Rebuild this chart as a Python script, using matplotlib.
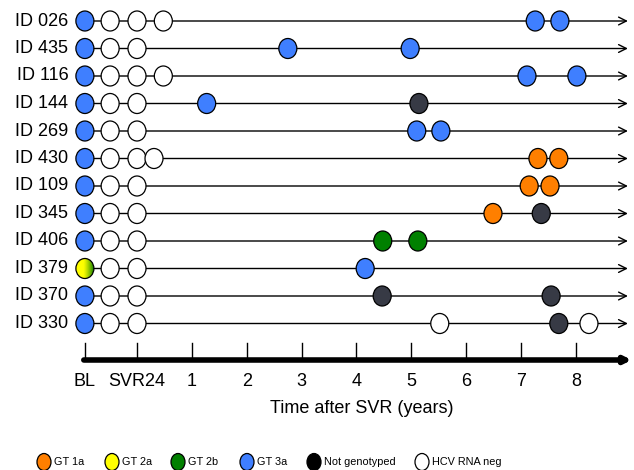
import numpy as np
import matplotlib
matplotlib.use('Agg')
import matplotlib.pyplot as plt
from matplotlib.patches import Ellipse

plt.rcParams['font.family'] = ['Liberation Sans', 'DejaVu Sans']

# patient ids (top to bottom)
ids = ['ID 026', 'ID 435', 'ID 116', 'ID 144', 'ID 269', 'ID 430',
       'ID 109', 'ID 345', 'ID 406', 'ID 379', 'ID 370', 'ID 330']
# genotype at baseline
bl_gt = ['3a', '3a', '3a', '3a', '3a', '3a', '3a', '3a', '3a', '2a/2b', '3a', '3a']
# HCV RNA negative visits around end of treatment / SVR24 (years after SVR)
neg_visits = [[-0.49, 0, 0.48], [-0.49, 0], [-0.49, 0, 0.48], [-0.49, 0], [-0.49, 0],
              [-0.49, 0, 0.31], [-0.49, 0], [-0.49, 0], [-0.49, 0], [-0.49, 0],
              [-0.49, 0], [-0.49, 0]]
# follow-up samples: (years after SVR, genotype)
followup = [
    [(7.26, '3a'), (7.71, '3a')],
    [(2.75, '3a'), (4.98, '3a')],
    [(7.11, '3a'), (8.02, '3a')],
    [(1.27, '3a'), (5.14, 'NG')],
    [(5.10, '3a'), (5.54, '3a')],
    [(7.31, '1a'), (7.69, '1a')],
    [(7.15, '1a'), (7.53, '1a')],
    [(6.49, '1a'), (7.37, 'NG')],
    [(4.48, '2b'), (5.12, '2b')],
    [(4.16, '3a')],
    [(4.47, 'NG'), (7.55, 'NG')],
    [(5.52, 'neg'), (7.69, 'NG'), (8.24, 'neg')],
]
BL = -0.95
tick_pos = [BL, 0, 1, 2, 3, 4, 5, 6, 7, 8]
tick_labels = ['BL', 'SVR24', '1', '2', '3', '4', '5', '6', '7', '8']

legend_labels = ['GT 1a', 'GT 2a', 'GT 2b', 'GT 3a', 'Not genotyped', 'HCV RNA neg']
legend_keys = ['1a', '2a', '2b', '3a', 'NGL', 'neg']

colors = {'1a': '#ff7f00', '2a': '#ffff00', '2b': '#008000', '3a': '#3f7fff',
          'NG': '#373a45', 'NGL': '#000000', 'neg': '#ffffff'}

fig = plt.figure(figsize=(6.34, 4.70), dpi=100)
ax = fig.add_axes([0, 0, 1, 1])
ax.set_xlim(-137 / 54.85, (634 - 137) / 54.85)
ax.set_ylim((470 - 21) / 27.5, -21 / 27.5)
ax.axis('off')

W, H = 18 / 54.85, 20 / 27.5


def dot(x, y, c, w=W, h=H, z=3):
    e = Ellipse((x, y), w, h, facecolor=c, edgecolor='black', lw=0.9, zorder=z)
    ax.add_patch(e)
    return e


for i, name in enumerate(ids):
    ax.text(-1.25, i, name, ha='right', va='center', fontsize=13)
    ax.annotate('', xy=(8.95, i), xytext=(BL, i),
                arrowprops=dict(arrowstyle='->', lw=1, color='black',
                                shrinkA=0, shrinkB=0, mutation_scale=14))
    if bl_gt[i] == '2a/2b':
        # mixed 2a/2b baseline: yellow to green gradient
        e = dot(BL, i, 'none', z=3.3)
        grad = np.linspace(0, 1, 100)
        grad = np.clip((grad - 0.4) / 0.6, 0, 1) ** 1.3
        img = np.zeros((2, 100, 3))
        yel = np.array([1, 1, 0])
        grn = np.array([0.05, 0.5, 0.0])
        img[:] = yel[None, :] * (1 - grad[:, None]) + grn[None, :] * grad[:, None]
        im = ax.imshow(img, extent=[BL - W / 2, BL + W / 2, i + H / 2, i - H / 2],
                       aspect='auto', zorder=3.2)
        im.set_clip_path(e)
    else:
        dot(BL, i, colors[bl_gt[i]])
    for x in neg_visits[i]:
        dot(x, i, colors['neg'])
    for x, g in followup[i]:
        dot(x, i, colors[g])

# time axis
ax_y = (360 - 21) / 27.5
ax.annotate('', xy=(9.02, ax_y), xytext=(BL - 0.02, ax_y),
            arrowprops=dict(arrowstyle='-|>', lw=4, color='black',
                            shrinkA=0, shrinkB=0, mutation_scale=9))
for x, lab in zip(tick_pos, tick_labels):
    ax.plot([x, x], [(343 - 21) / 27.5, ax_y], color='black', lw=1)
    ax.text(x, (382 - 21) / 27.5, lab, ha='center', va='center', fontsize=13)
ax.text(4.1, (409 - 21) / 27.5, 'Time after SVR (years)', ha='center', va='center',
        fontsize=13)

# legend
leg_px = [44, 112, 178, 247, 314, 422]
leg_y = (462 - 21) / 27.5
for px, key, lab in zip(leg_px, legend_keys, legend_labels):
    x = (px - 137) / 54.85
    dot(x, leg_y, colors[key], w=14 / 54.85, h=17 / 27.5)
    ax.text(x + 10 / 54.85, leg_y, lab, ha='left', va='center', fontsize=7.8)

fig.savefig('out.png', dpi=100)
